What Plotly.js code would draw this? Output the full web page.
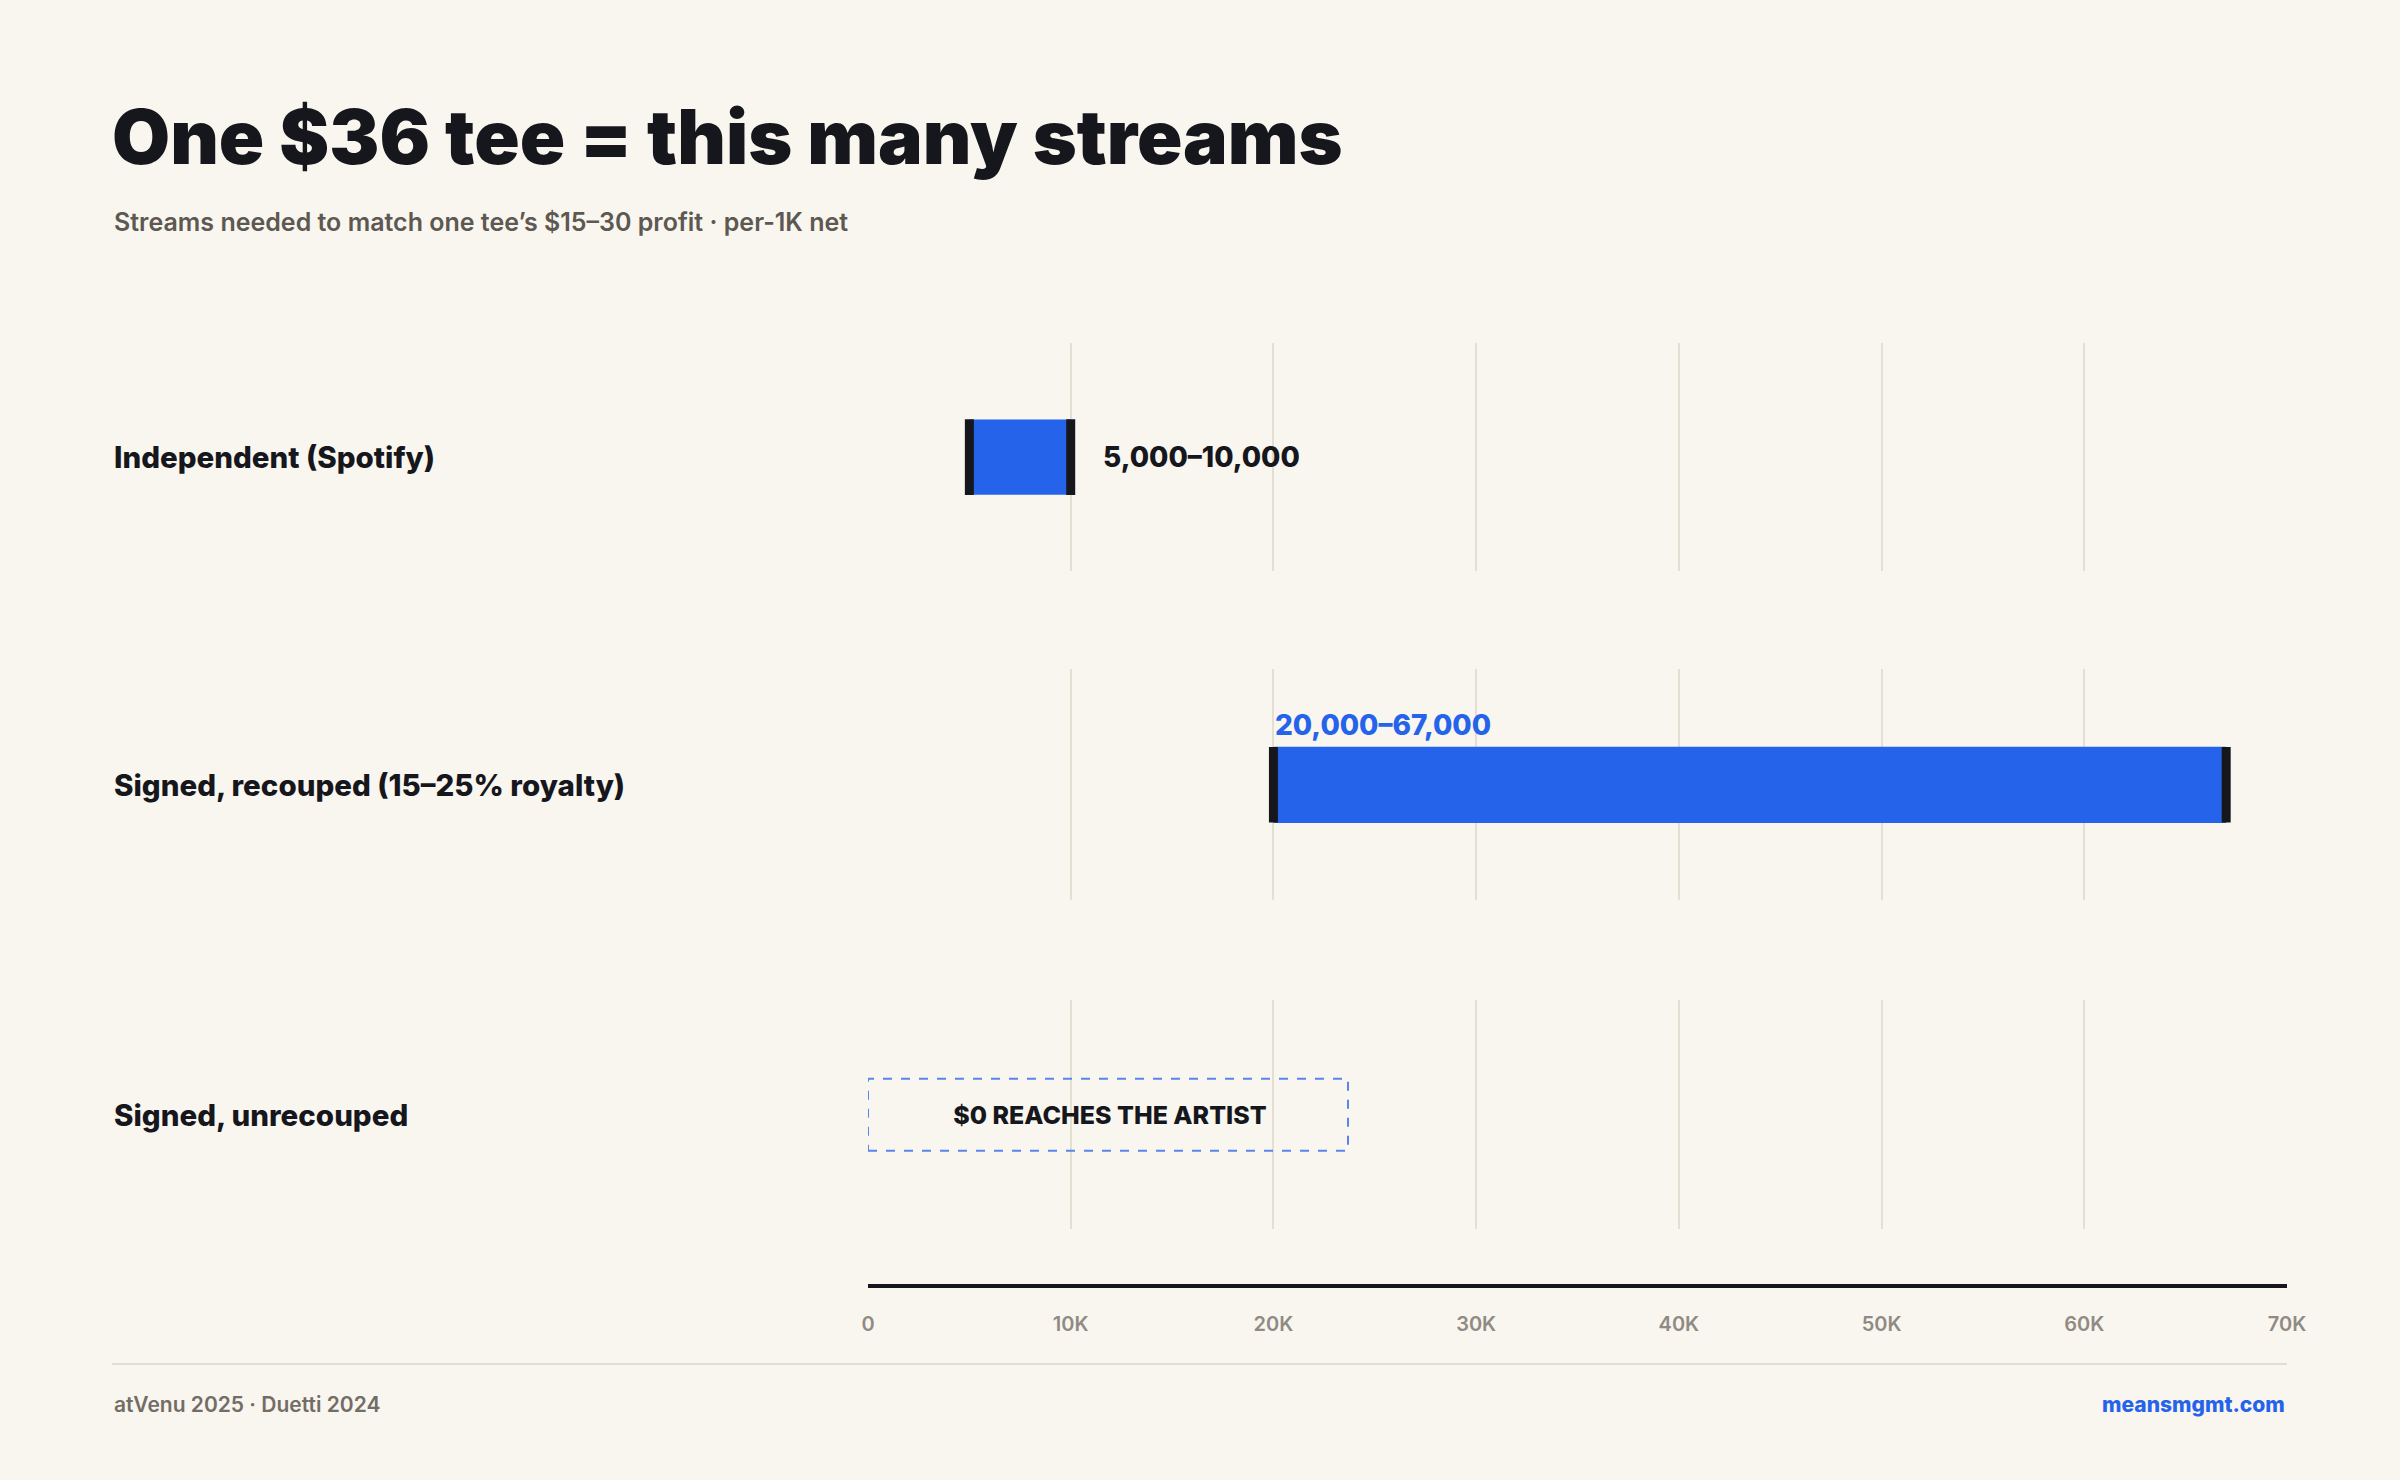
<!DOCTYPE html>
<html>
<head>
<meta charset="utf-8">
<script src="https://cdn.plot.ly/plotly-3.0.1.min.js"></script>
<style>
  html, body { margin: 0; padding: 0; background: #f9f6ef; }
  #chart { width: 2400px; height: 1480px; }
</style>
</head>
<body>
<div id="chart"></div>
<script>
// rows of the chart
var categories = ["Independent (Spotify)", "Signed, recouped (15–25% royalty)", "Signed, unrecouped"];
var lowStreams = [5000, 20000, null];
var highStreams = [10000, 67000, null];
var rangeText = ["5,000–10,000", "20,000–67,000", "$0 REACHES THE ARTIST"];
var labelPlace = ["right", "above", "box"];

// x axis ticks
var tickVals = [0, 10000, 20000, 30000, 40000, 50000, 60000, 70000];
var tickText = ["0", "10K", "20K", "30K", "40K", "50K", "60K", "70K"];

var BLUE = "#2563eb";
var INK = "#16171d";
var FONT = "Inter, 'Noto Sans', sans-serif";

var yaxes = ["y", "y2", "y3"];
var domains = [[0.758, 1], [0.409, 0.654], [0.060, 0.303]];
var labelX = -0.5328; // left column of the row names, in paper units

var data = [];
var annotations = [];
var shapes = [];

for (var i = 0; i < categories.length; i++) {
    if (lowStreams[i] !== null) {
        // range bar
        data.push({
            type: "bar",
            orientation: "h",
            y: [categories[i]],
            x: [highStreams[i] - lowStreams[i]],
            base: [lowStreams[i]],
            width: 0.33,
            marker: { color: BLUE },
            xaxis: "x",
            yaxis: yaxes[i],
            hoverinfo: "skip",
            showlegend: false
        });
        // end caps
        data.push({
            type: "scatter",
            mode: "markers",
            x: [lowStreams[i], highStreams[i]],
            y: [categories[i], categories[i]],
            marker: { symbol: "line-ns", size: 54, line: { width: 9, color: INK } },
            xaxis: "x",
            yaxis: yaxes[i],
            hoverinfo: "skip",
            showlegend: false
        });
    } else {
        // empty row still needs its panel
        data.push({ type: "scatter", x: [], y: [], xaxis: "x", yaxis: yaxes[i], showlegend: false });
    }

    // row name
    annotations.push({
        xref: "paper", x: labelX, xanchor: "left",
        yref: yaxes[i], y: categories[i], yanchor: "middle",
        text: categories[i], showarrow: false,
        font: { family: FONT, size: 29.5, weight: 800, color: INK }
    });

    // value label
    if (labelPlace[i] === "right") {
        annotations.push({
            xref: "x", x: highStreams[i], xanchor: "left", xshift: 30,
            yref: yaxes[i], y: categories[i], yanchor: "middle",
            text: rangeText[i], showarrow: false,
            font: { family: FONT, size: 28, weight: 800, color: INK }
        });
    } else if (labelPlace[i] === "above") {
        annotations.push({
            xref: "x", x: lowStreams[i], xanchor: "left",
            yref: yaxes[i], y: categories[i], yanchor: "middle", yshift: 60,
            text: rangeText[i], showarrow: false,
            font: { family: FONT, size: 28, weight: 800, color: BLUE }
        });
    } else {
        annotations.push({
            xref: "x", x: 0, xanchor: "left", width: 480, align: "center",
            yref: yaxes[i], y: categories[i], yanchor: "middle",
            text: rangeText[i], showarrow: false,
            font: { family: FONT, size: 25, weight: 800, color: INK }
        });
        shapes.push({
            type: "rect", xref: "x", yref: yaxes[i],
            xsizemode: "pixel", xanchor: 0, x0: 0, x1: 480,
            ysizemode: "pixel", yanchor: 0, y0: -36, y1: 36,
            line: { color: "#5b84ee", width: 2, dash: "dash" },
            fillcolor: "rgba(0,0,0,0)"
        });
    }
}

// subtitle + footer
annotations.push({
    xref: "paper", x: labelX, xanchor: "left",
    yref: "paper", y: 1.128, yanchor: "middle",
    text: "Streams needed to match one tee’s $15–30 profit · per-1K net", showarrow: false,
    font: { family: FONT, size: 25, weight: 600, color: "#5d5851" }
});
annotations.push({
    xref: "paper", x: labelX, xanchor: "left",
    yref: "paper", y: -0.126, yanchor: "middle",
    text: "atVenu 2025 · Duetti 2024", showarrow: false,
    font: { family: FONT, size: 21, weight: 600, color: "#726d66" }
});
annotations.push({
    xref: "paper", x: 1, xanchor: "right",
    yref: "paper", y: -0.126, yanchor: "middle",
    text: "meansmgmt.com", showarrow: false,
    font: { family: FONT, size: 21, weight: 800, color: BLUE }
});
shapes.push({
    type: "line", xref: "paper", yref: "paper",
    x0: labelX, x1: 1, y0: -0.0827, y1: -0.0827,
    line: { color: "#e2ddd1", width: 2 }
});

var layout = {
    width: 2400,
    height: 1480,
    margin: { l: 868, r: 113, t: 343, b: 194 },
    paper_bgcolor: "#f9f6ef",
    plot_bgcolor: "rgba(0,0,0,0)",
    showlegend: false,
    title: {
        text: "One $36 tee = this many streams",
        xref: "container", x: 112 / 2400, xanchor: "left",
        yref: "container", y: 1 - 138 / 1480, yanchor: "middle",
        font: { family: FONT, size: 75, weight: 900, color: INK }
    },
    xaxis: {
        range: [0, 70000],
        anchor: "free", position: 0,
        tickvals: tickVals, ticktext: tickText,
        showgrid: true, gridcolor: "#e4dfd3", gridwidth: 2,
        zeroline: false,
        showline: true, linecolor: INK, linewidth: 4,
        ticks: "", ticklabelstandoff: 19,
        tickfont: { family: FONT, size: 20, weight: 600, color: "#8f8b84" },
        fixedrange: true
    },
    annotations: annotations,
    shapes: shapes
};

for (var j = 0; j < yaxes.length; j++) {
    var key = j === 0 ? "yaxis" : "yaxis" + (j + 1);
    layout[key] = {
        domain: domains[j],
        anchor: "x",
        type: "category",
        range: [-0.5, 0.5],
        showticklabels: false,
        showgrid: false,
        zeroline: false,
        showline: false,
        fixedrange: true
    };
}

Plotly.newPlot("chart", data, layout, { displayModeBar: false, staticPlot: true });
</script>
</body>
</html>
